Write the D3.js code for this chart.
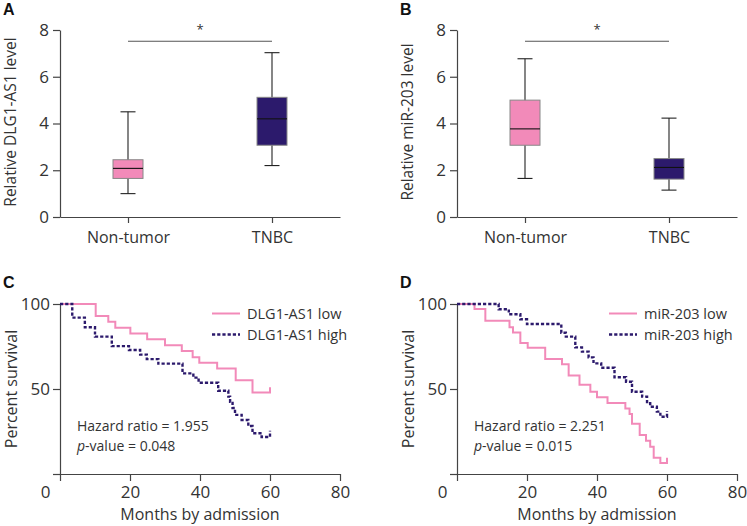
<!DOCTYPE html>
<html><head><meta charset="utf-8">
<script src="https://cdn.jsdelivr.net/npm/d3@7"></script>
<style>
body{margin:0;background:#fff;}
text{font-family:"Open Sans","DejaVu Sans",sans-serif;fill:#333;}
</style></head>
<body><svg id="c" width="747" height="526"></svg>
<script>
// ---------- data ----------
const boxCategories = ["Non-tumor", "TNBC"];
// [min, q1, median, q3, max]
const boxA_nonTumor = [1.0, 1.65, 2.08, 2.45, 4.5];
const boxA_tnbc     = [2.2, 3.07, 4.2, 5.12, 7.03];
const boxB_nonTumor = [1.65, 3.07, 3.77, 5.0, 6.77];
const boxB_tnbc     = [1.15, 1.62, 2.12, 2.5, 4.23];
const boxTicks = [0, 2, 4, 6, 8];
const sigLevel = 7.52;

const kmXTicks = [0, 20, 40, 60, 80];
const kmYTicks = [0, 50, 100];
const kmYTickLabels = ["", "50", "100"];

// Panel C
const cLowTimes = [0, 10.2, 13.8, 15.8, 20.1, 24.9, 30, 34.8, 37.9, 39.8, 44.9, 50.2, 55, 60, 60];
const cLowSurv  = [100, 93, 89.5, 86, 82.7, 79.2, 75.8, 72.3, 68.7, 65.5, 62, 55.2, 47.9, 47.9, 51];
const cHighTimes = [0, 3.5, 7.1, 10, 14.8, 19.7, 22.9, 24.8, 28.1, 35, 38.1, 39.6, 45.2, 48.1, 48.6, 49.3, 50, 51.9, 53.8, 55, 57.6, 60, 60];
const cHighSurv  = [100, 92, 86.3, 80.8, 75.2, 72.9, 70.2, 67.6, 64.9, 59.2, 56.7, 53.7, 49, 45.5, 42.5, 38.8, 34.8, 31.8, 28.2, 24, 21.8, 21.8, 25.5];
// Panel D
const dLowTimes = [0, 5, 8.1, 15, 16, 18.1, 20.2, 25.2, 30, 31.9, 35, 38.1, 40, 43, 48.1, 49.3, 50, 52.2, 54, 55.2, 56.2, 58.1, 60, 60];
const dLowSurv  = [100, 97, 90.2, 86.3, 83.3, 77, 74.3, 67.6, 64.5, 58, 52.5, 48.4, 45.2, 41.8, 38.5, 35.3, 29.5, 23, 19.5, 16, 9.5, 6.5, 6.5, 9.5];
const dHighTimes = [0, 11.9, 14.8, 18.1, 20, 29.8, 31.1, 33.8, 35.7, 37.6, 39, 41.2, 45, 48.3, 50, 52.9, 54.3, 55.2, 57.1, 58.1, 60, 60];
const dHighSurv  = [100, 96.9, 94, 91, 88.2, 83.1, 80.8, 74.5, 72, 68.6, 65.1, 62.5, 56.9, 54.3, 48.4, 45.5, 41.6, 39.6, 36.7, 33.7, 33.7, 37];

const pink = "#f28ab9";
const navy = "#2c1a6c";
const axisColor = "#444";

const svg = d3.select("#c");

function panelLetter(x, y, t) {
  svg.append("text").attr("x", x).attr("y", y).text(t)
    .style("font-family", "'Liberation Sans',Arial,sans-serif")
    .style("font-weight", "bold").style("font-size", "16px").style("fill", "#111");
}

function styleAxis(g, fs) {
  g.selectAll("path.domain").attr("stroke", axisColor).attr("stroke-width", 1.2);
  g.selectAll(".tick line").attr("stroke", axisColor).attr("stroke-width", 1.2);
  g.selectAll(".tick text").style("font-size", fs).style("fill", "#333")
    .style("font-family", "'Open Sans','DejaVu Sans',sans-serif");
}

// ---------- box plots ----------
function boxPanel(ox, yLabel, boxes) {
  const x0 = ox + 60, x1 = ox + 340;
  const y = d3.scaleLinear().domain([0, 8]).range([217, 30]);
  const x = d3.scalePoint().domain(boxCategories).range([x0 + 68, x0 + 212]);
  const gy = svg.append("g").attr("transform", `translate(${x0},0)`)
    .call(d3.axisLeft(y).tickValues(boxTicks).tickSize(7).tickPadding(4).tickSizeOuter(0));
  styleAxis(gy, "17px");
  const gx = svg.append("g").attr("transform", `translate(0,217)`)
    .call(d3.axisBottom(d3.scaleLinear().domain([0,1]).range([x0, x1])).tickValues([]).tickSizeOuter(0));
  styleAxis(gx, "16px");
  const gxc = svg.append("g").attr("transform", `translate(0,217)`)
    .call(d3.axisBottom(x).tickSize(6).tickPadding(9).tickSizeOuter(0));
  gxc.select("path.domain").remove();
  styleAxis(gxc, "16px");

  const bw = 30, cap = 15;
  boxes.forEach((b, i) => {
    const cx = x(boxCategories[i]);
    const g = svg.append("g");
    g.append("line").attr("x1", cx).attr("x2", cx).attr("y1", y(b[4])).attr("y2", y(b[0]))
      .attr("stroke", "#222").attr("stroke-width", 1.1);
    [b[0], b[4]].forEach(v => g.append("line").attr("x1", cx - cap/2).attr("x2", cx + cap/2)
      .attr("y1", y(v)).attr("y2", y(v)).attr("stroke", "#222").attr("stroke-width", 1.1));
    g.append("rect").attr("x", cx - bw/2).attr("y", y(b[3])).attr("width", bw)
      .attr("height", y(b[1]) - y(b[3])).attr("fill", i === 0 ? pink : navy)
      .attr("stroke", "#888").attr("stroke-width", 1);
    g.append("line").attr("x1", cx - bw/2).attr("x2", cx + bw/2).attr("y1", y(b[2])).attr("y2", y(b[2]))
      .attr("stroke", "#111").attr("stroke-width", 1.1);
  });
  svg.append("line").attr("x1", x(boxCategories[0])).attr("x2", x(boxCategories[1]))
    .attr("y1", y(sigLevel)).attr("y2", y(sigLevel)).attr("stroke", "#555").attr("stroke-width", 1.1);
  svg.append("text").attr("x", (x(boxCategories[0]) + x(boxCategories[1])) / 2).attr("y", 34)
    .attr("text-anchor", "middle").style("font-size", "13px").text("*");
  svg.append("text").attr("transform", `translate(${ox + 16},${122}) rotate(-90)`)
    .attr("text-anchor", "middle").style("font-size", "15.5px").text(yLabel);
}

boxPanel(0, "Relative DLG1-AS1 level", [boxA_nonTumor, boxA_tnbc]);
boxPanel(397, "Relative miR-203 level", [boxB_nonTumor, boxB_tnbc]);
panelLetter(3, 15, "A");
panelLetter(400, 15, "B");

// ---------- KM plots ----------
function kmPanel(ox, curves, legendLabels, hr, pv) {
  const x0 = ox + 60;
  const x = d3.scaleLinear().domain([0, 80]).range([x0, x0 + 280]);
  const y = d3.scaleLinear().domain([0, 100]).range([474, 304]);
  const gy = svg.append("g").attr("transform", `translate(${x0},0)`)
    .call(d3.axisLeft(y).tickValues(kmYTicks).tickFormat((d, i) => kmYTickLabels[i]).tickSize(7).tickPadding(3).tickSizeOuter(0));
  styleAxis(gy, "17px");
  const gx = svg.append("g").attr("transform", `translate(0,474)`)
    .call(d3.axisBottom(x).tickValues(kmXTicks).tickSize(7).tickPadding(5).tickSizeOuter(0));
  styleAxis(gx, "17px");
  gx.selectAll(".tick text").filter(d => d === 0).attr("dx", "-15px");

  svg.append("text").attr("x", x(40)).attr("y", 520).attr("text-anchor", "middle")
    .style("font-size", "16px").text("Months by admission");
  svg.append("text").attr("transform", `translate(${ox + 17},389) rotate(-90)`)
    .attr("text-anchor", "middle").style("font-size", "16px").text("Percent survival");

  const line = d3.line().x(d => x(d[0])).y(d => y(d[1])).curve(d3.curveStepAfter);
  curves.forEach((c, i) => {
    const pts = c.t.map((t, k) => [t, c.s[k]]);
    svg.append("path").attr("d", line(pts)).attr("fill", "none")
      .attr("stroke", i === 0 ? pink : navy).attr("stroke-width", i === 0 ? 2 : 2.4)
      .attr("stroke-dasharray", i === 0 ? null : "3.2,2");
  });
  // legend
  const lx = ox + 212;
  [313.5, 334.5].forEach((ly, i) => {
    svg.append("line").attr("x1", lx).attr("x2", lx + 28).attr("y1", ly).attr("y2", ly)
      .attr("stroke", i === 0 ? pink : navy).attr("stroke-width", i === 0 ? 2 : 2.4)
      .attr("stroke-dasharray", i === 0 ? null : "3.2,2");
    svg.append("text").attr("x", lx + 35).attr("y", ly + 5).style("font-size", "14.5px").text(legendLabels[i]);
  });
  svg.append("text").attr("x", ox + 77).attr("y", 431).style("font-size", "14px").text("Hazard ratio = " + hr);
  const pt = svg.append("text").attr("x", ox + 77).attr("y", 451).style("font-size", "14px");
  pt.append("tspan").style("font-style", "italic").text("p");
  pt.append("tspan").text("-value = " + pv);
}

kmPanel(0, [{t: cLowTimes, s: cLowSurv}, {t: cHighTimes, s: cHighSurv}], ["DLG1-AS1 low", "DLG1-AS1 high"], "1.955", "0.048");
kmPanel(397, [{t: dLowTimes, s: dLowSurv}, {t: dHighTimes, s: dHighSurv}], ["miR-203 low", "miR-203 high"], "2.251", "0.015");
panelLetter(3, 288, "C");
panelLetter(400, 288, "D");
</script></body></html>
